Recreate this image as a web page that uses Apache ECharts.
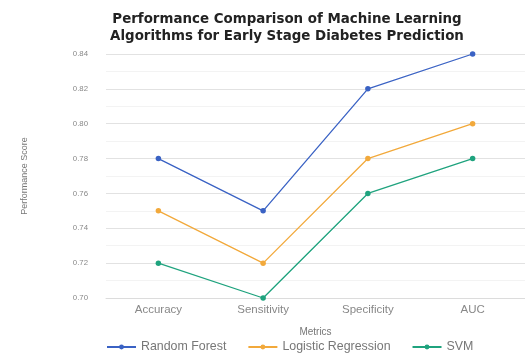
<!DOCTYPE html>
<html>
<head>
<meta charset="utf-8">
<script src="https://cdn.jsdelivr.net/npm/echarts@6/dist/echarts.min.js"></script>
<style>
  html, body { margin: 0; padding: 0; background: #fff; }
  #chart { width: 525px; height: 360px; }
</style>
</head>
<body>
<div id="chart"></div>
<script>
// Evaluation metrics on the x axis
const metrics = ['Accuracy', 'Sensitivity', 'Specificity', 'AUC'];

// Scores for each algorithm
const randomForest = [0.78, 0.75, 0.82, 0.84];
const logisticRegression = [0.75, 0.72, 0.78, 0.80];
const svm = [0.72, 0.70, 0.76, 0.78];

// Y axis range and step
const yMin = 0.70;
const yMax = 0.84;
const yStep = 0.02;

const seriesDefs = [
  { name: 'Random Forest', data: randomForest, color: '#3a62c4' },
  { name: 'Logistic Regression', data: logisticRegression, color: '#f2a93b' },
  { name: 'SVM', data: svm, color: '#1fa37e' }
];

const chart = echarts.init(document.getElementById('chart'), null, { renderer: 'canvas' });

chart.setOption({
  backgroundColor: '#ffffff',
  animation: false,
  title: {
    text: 'Performance Comparison of Machine Learning\nAlgorithms for Early Stage Diabetes Prediction',
    left: 282,
    textAlign: 'center',
    top: 6,
    textStyle: {
      fontFamily: 'DejaVu Sans',
      fontWeight: 'bold',
      fontSize: 13.4,
      lineHeight: 17,
      color: '#222'
    }
  },
  legend: {
    bottom: 2,
    left: 101,
    itemWidth: 29,
    itemHeight: 6,
    itemGap: 21,
    textStyle: { fontFamily: 'Liberation Sans', fontSize: 12.4, color: '#777' },
    data: seriesDefs.map(s => s.name)
  },
  grid: { left: 106, right: -6, top: 54, bottom: 62 },
  xAxis: {
    type: 'category',
    data: metrics,
    boundaryGap: true,
    name: 'Metrics',
    nameLocation: 'middle',
    nameGap: 29,
    nameTextStyle: { fontFamily: 'Liberation Sans', fontSize: 10, color: '#777' },
    axisLine: { show: true, lineStyle: { color: '#dcdcdc' } },
    axisTick: { show: false },
    axisLabel: { fontFamily: 'Liberation Sans', fontSize: 11.5, color: '#888', margin: 6 }
  },
  yAxis: {
    type: 'value',
    min: yMin,
    max: yMax,
    interval: yStep,
    name: 'Performance Score',
    nameLocation: 'middle',
    nameGap: 77,
    nameTextStyle: { fontFamily: 'Liberation Sans', fontSize: 9, color: '#777' },
    axisLine: { show: false },
    axisTick: { show: false },
    axisLabel: {
      fontFamily: 'Liberation Sans',
      fontSize: 7.8,
      color: '#888',
      margin: 18,
      formatter: v => v.toFixed(2)
    },
    splitLine: { show: true, lineStyle: { color: '#e2e2e2', width: 1 } },
    minorTick: { show: false, splitNumber: 2 },
    minorSplitLine: { show: true, lineStyle: { color: '#f3f3f3', width: 1 } }
  },
  series: seriesDefs.map(s => ({
    name: s.name,
    type: 'line',
    data: s.data,
    symbol: 'circle',
    symbolSize: 5.5,
    color: s.color,
    lineStyle: { width: 1.3, color: s.color },
    itemStyle: { color: s.color }
  }))
});
</script>
</body>
</html>
